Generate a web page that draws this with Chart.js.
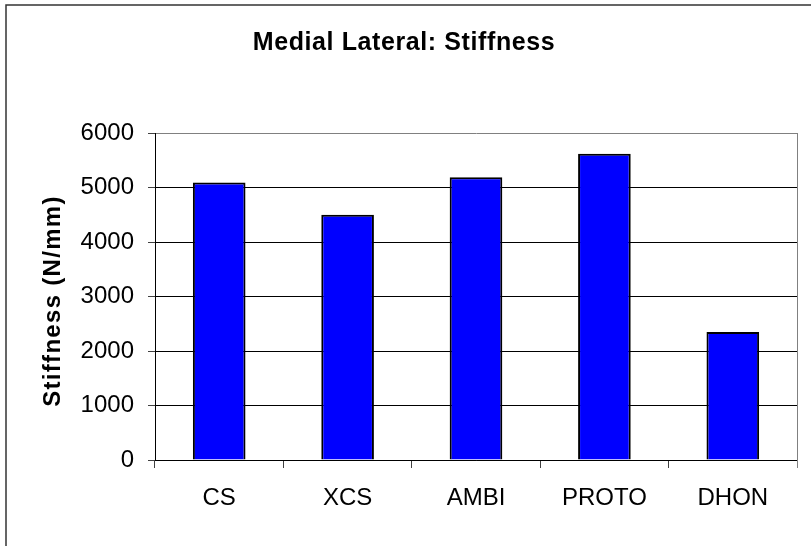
<!DOCTYPE html>
<html>
<head>
<meta charset="utf-8">
<script src="https://cdn.jsdelivr.net/npm/chart.js@4/dist/chart.umd.min.js"></script>
<style>
  html, body { margin: 0; padding: 0; background: #fff; }
  #wrap { width: 811px; height: 546px; }
</style>
</head>
<body>
<div id="wrap"><canvas id="c" width="811" height="546"></canvas></div>
<script>
// Medial-lateral stiffness per implant design
const categories = ['CS', 'XCS', 'AMBI', 'PROTO', 'DHON'];
const stiffness = [5090, 4500, 5190, 5620, 2350];
const yTicks = [0, 1000, 2000, 3000, 4000, 5000, 6000];
const chartTitle = 'Medial Lateral: Stiffness';
const yAxisTitle = 'Stiffness (N/mm)';

const FONT = '"Liberation Sans", Arial, sans-serif';

// Frame, plot-area border and spaced-out titles
const decorations = {
  id: 'decorations',
  beforeDraw(chart) {
    const ctx = chart.ctx;
    ctx.save();
    ctx.fillStyle = '#fff';
    ctx.fillRect(0, 0, chart.width, chart.height);
    ctx.restore();
  },
  afterDraw(chart) {
    const ctx = chart.ctx;
    const a = chart.chartArea;
    ctx.save();
    // outer frame (left and top edges visible)
    ctx.strokeStyle = '#333';
    ctx.lineWidth = 1.5;
    ctx.beginPath();
    ctx.moveTo(6, chart.height + 2);
    ctx.lineTo(6, 5);
    ctx.lineTo(chart.width + 2, 5);
    ctx.stroke();
    // right edge of plot area
    ctx.strokeStyle = '#808080';
    ctx.lineWidth = 1;
    ctx.beginPath();
    ctx.moveTo(Math.round(a.right) + 0.5, a.top);
    ctx.lineTo(Math.round(a.right) + 0.5, a.bottom + 8);
    ctx.stroke();
    // chart title
    ctx.fillStyle = '#000';
    ctx.letterSpacing = '0.6px';
    ctx.font = 'bold 25px ' + FONT;
    ctx.textAlign = 'center';
    ctx.textBaseline = 'alphabetic';
    ctx.fillText(chartTitle, 404, 50);
    // y axis title
    ctx.font = 'bold 24px ' + FONT;
    ctx.letterSpacing = '1.3px';
    ctx.translate(53, 301);
    ctx.rotate(-Math.PI / 2);
    ctx.textBaseline = 'middle';
    ctx.fillText(yAxisTitle, 0, 0);
    ctx.restore();
  }
};

new Chart(document.getElementById('c'), {
  type: 'bar',
  data: {
    labels: categories,
    datasets: [{
      data: stiffness,
      backgroundColor: '#0000ff',
      borderColor: '#000',
      borderWidth: 2,
      categoryPercentage: 1,
      barPercentage: 0.41
    }]
  },
  options: {
    responsive: false,
    animation: false,
    devicePixelRatio: 1,
    layout: { padding: { left: 0, right: 14, top: 133, bottom: 0 } },
    plugins: {
      legend: { display: false },
      title: { display: false },
      tooltip: { enabled: false }
    },
    scales: {
      x: {
        offset: true,
        grid: {
          offset: true,
          drawOnChartArea: false,
          drawTicks: true,
          tickLength: 8,
          color: '#404040',
          lineWidth: 1
        },
        border: { color: '#000', width: 1 },
        ticks: {
          color: '#000',
          padding: 16,
          font: { family: FONT, size: 24 }
        },
        afterFit(scale) { scale.height = 86; }
      },
      y: {
        min: 0,
        max: 6000,
        afterBuildTicks(scale) {
          scale.ticks = yTicks.map(v => ({ value: v }));
        },
        grid: {
          color: ctx => (ctx.tick && ctx.tick.value === 6000) ? '#808080' : '#000',
          lineWidth: 1,
          tickLength: 7,
          tickColor: '#404040'
        },
        border: { color: '#000', width: 1 },
        ticks: {
          color: '#000',
          padding: 14,
          font: { family: FONT, size: 24 },
          callback: v => String(v)
        },
        afterFit(scale) { scale.width = 155; }
      }
    }
  },
  plugins: [decorations]
});
</script>
</body>
</html>
